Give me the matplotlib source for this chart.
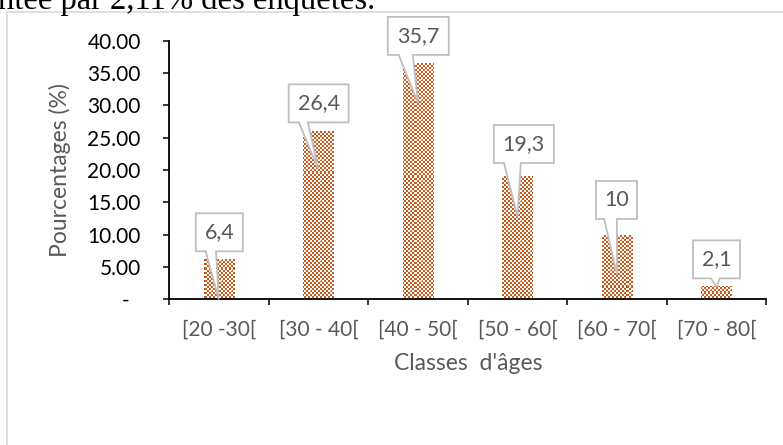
import matplotlib
matplotlib.use('Agg')
import matplotlib.pyplot as plt
import numpy as np
from matplotlib.patches import Rectangle, Polygon

# ---- data ----
categories = ['[20 -30[', '[30 - 40[', '[40 - 50[', '[50 - 60[', '[60 - 70[', '[70 - 80[']
values = [6.3, 26.1, 36.6, 19.0, 9.9, 2.1]
labels = ['6,4', '26,4', '35,7', '19,3', '10', '2,1']
yticks = [0, 5, 10, 15, 20, 25, 30, 35, 40]
ytick_labels = ['-  '] + ['%.2f' % v for v in yticks[1:]]
xlabel = "Classes  d'âges"
ylabel = 'Pourcentages (%)'
top_text = 'ntée par 2,11% des enquêtés.'

# ---- style ----
ORANGE = np.array([200, 90, 25]) / 255.0
GRAY_TXT = '#595959'
FONT = 'Lato'
FS = 15

W, H = 783, 445
fig = plt.figure(figsize=(W / 100, H / 100), dpi=100)
fig.patch.set_facecolor('white')

ax_l, ax_r, ax_t, ax_b = 169, 766.5, 40.7, 299.3
ax = fig.add_axes([ax_l / W, 1 - ax_b / H, (ax_r - ax_l) / W, (ax_b - ax_t) / H])
ax.set_xlim(-0.5, len(categories) - 0.5)
ax.set_ylim(0, 40)

x = np.arange(len(categories))
bar_w = 0.307
bars = ax.bar(x, values, bar_w, color='none', edgecolor='none', zorder=2)

# checker pattern fill clipped to each bar
fig.canvas.draw()
for i, b in enumerate(bars):
    (x0, y0), (x1, y1) = ax.transData.transform([(b.get_x(), 0), (b.get_x() + b.get_width(), b.get_height())])
    wpx = int(round(x1 - x0)) + 2
    hpx = int(round(y1 - y0)) + 2
    ix0 = int(np.floor(x0))
    iy1 = int(np.ceil(y1))
    xs = np.arange(ix0, ix0 + wpx)
    ys = np.arange(H - iy1, H - iy1 + hpx)
    XX, YY = np.meshgrid(xs, ys)
    chk = ((XX // 2 + YY // 2) % 2) == 0
    grid = ((XX % 10) == 0) & ((YY % 10) == 0)
    img = np.ones((hpx, wpx, 3))
    img[chk] = ORANGE
    img[grid] = 1.0
    ext_x0, ext_y1 = ax.transData.inverted().transform((ix0, iy1))
    ext_x1, ext_y0 = ax.transData.inverted().transform((ix0 + wpx, iy1 - hpx))
    im = ax.imshow(img, extent=(ext_x0, ext_x1, ext_y0, ext_y1), interpolation='nearest',
                   aspect='auto', zorder=2)
    im.set_clip_path(b)
ax.set_xlim(-0.5, len(categories) - 0.5)
ax.set_ylim(0, 40)

# axes styling
for s in ['top', 'right']:
    ax.spines[s].set_visible(False)
for s in ['left', 'bottom']:
    ax.spines[s].set_color('black')
    ax.spines[s].set_linewidth(1.3)

ax.set_yticks(yticks)
ax.set_yticklabels(ytick_labels)
ax.tick_params(axis='y', direction='out', length=4.3, width=1.1, pad=16, labelsize=FS,
               labelcolor='black')
for t in ax.get_yticklabels():
    t.set_fontfamily(FONT)

ax.set_xticks(np.arange(-0.5, len(categories), 1))
ax.set_xticklabels([])
ax.set_xticks(x, minor=True)
ax.set_xticklabels(categories, minor=True)
ax.tick_params(axis='x', which='major', direction='out', length=4.3, width=1.1)
ax.tick_params(axis='x', which='minor', length=0, pad=15, labelsize=FS, labelcolor=GRAY_TXT)
for t in ax.get_xticklabels(minor=True):
    t.set_fontfamily(FONT)

ax.set_xlabel(xlabel, fontsize=16.5, color=GRAY_TXT, fontfamily=FONT, va='center')
ax.xaxis.set_label_coords(0.5, (ax_b - 363) / (ax_b - ax_t))
ax.set_ylabel(ylabel, fontsize=16.5, color=GRAY_TXT, fontfamily=FONT, va='center')
ax.yaxis.set_label_coords((60 - ax_l) / (ax_r - ax_l), 0.5)

# callouts (layout styling: tip fraction of bar height, box offset in px, box width, wedge base)
tip_frac = [0.0, 0.77, 0.83, 0.67, 0.38, 0.9]
box_dx = [0.5, 0.3, 0.3, 6.3, -0.7, -0.2]
box_dy = [67, 66, 67, 73, 75, 27.7]
box_wd = [47, 60, 61, 60, 41, 47]
wedge = [(0.21, 0.43), (0.17, 0.32), (0.18, 0.41), (0.17, 0.45), (0.2, 0.51), (0.38, 0.57)]
BOX_H = 38
for i in range(len(values)):
    tx, ty = ax.transData.transform((x[i], values[i] * tip_frac[i]))
    cx, cy = tx + box_dx[i], ty + box_dy[i]
    bw = box_wd[i]
    l, r = cx - bw / 2, cx + bw / 2
    bt, tp = cy - BOX_H / 2, cy + BOX_H / 2
    w0, w1 = l + wedge[i][0] * bw, l + wedge[i][1] * bw
    pts = [(l, bt), (w0, bt), (tx, ty), (w1, bt), (r, bt), (r, tp), (l, tp)]
    pts = [(p[0] / W, p[1] / H) for p in pts]
    fig.add_artist(Polygon(pts, closed=True, facecolor='white', edgecolor='#BFBFBF',
                           linewidth=1.3, transform=fig.transFigure, zorder=5))
    fig.text(cx / W, cy / H, labels[i], ha='center', va='center', color=GRAY_TXT,
             fontsize=FS + 0.5, fontfamily=FONT, zorder=6)

# chart area border
fig.add_artist(Rectangle((7 / W, -0.1), 1.2, (H - 12) / H + 0.1, transform=fig.transFigure,
                         fill=False, edgecolor='#D9D9D9', linewidth=1.2, zorder=0))

# document text cut at top
fig.text(-0.002, (H - 9) / H, top_text, fontfamily='Liberation Serif', fontsize=23.5,
         va='baseline', ha='left', color='black')

fig.savefig('out.png', dpi=100)
